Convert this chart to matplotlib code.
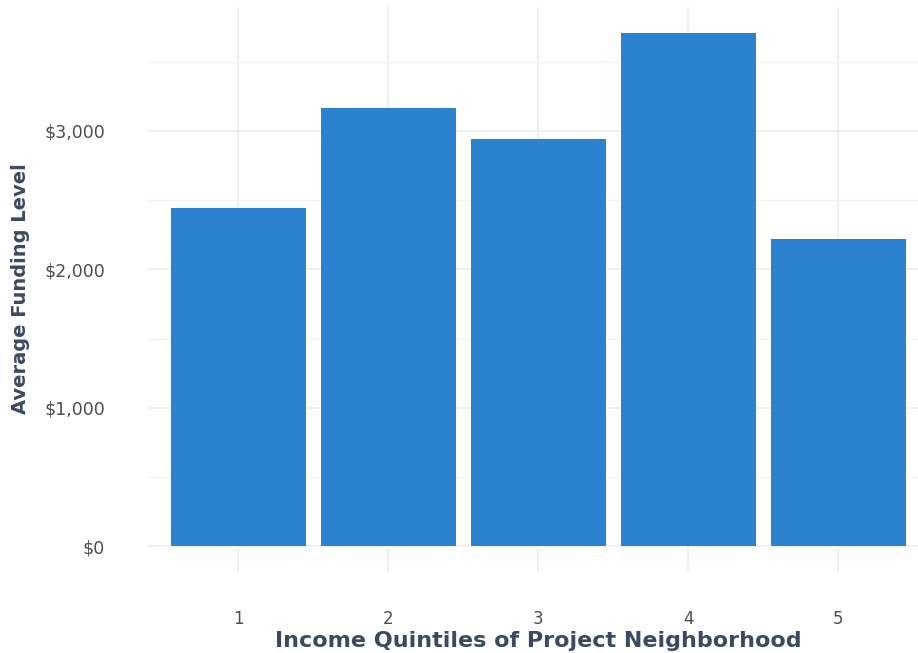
import matplotlib
matplotlib.use('Agg')
import matplotlib.pyplot as plt
import numpy as np

# Data
quintiles = ['1', '2', '3', '4', '5']
avg_funding = [2444, 3167, 2943, 3709, 2220]

bar_color = '#2b83d0'
label_color = '#3b4a63'
tick_color = '#4d4d4d'

plt.rcParams['font.family'] = ['DejaVu Sans']

fig = plt.figure(figsize=(9.18, 6.53), dpi=100)
# axes runs a bit past the right edge, like the cropped original
ax = fig.add_axes([148 / 918, 81 / 653, 780 / 918, 565 / 653])

x = np.arange(1, len(quintiles) + 1)
ax.bar(x, avg_funding, width=0.9, color=bar_color, zorder=3)

ax.set_xlim(0.4, 5.6)
ax.set_ylim(-185, 3894)

ax.set_xticks(x)
ax.set_xticklabels(quintiles)
ax.set_yticks([0, 1000, 2000, 3000])
ax.set_yticklabels(['$0', '$1,000', '$2,000', '$3,000'])
ax.set_yticks([500, 1500, 2500, 3500], minor=True)

# ggplot minimal look
for s in ax.spines.values():
    s.set_visible(False)
ax.grid(True, which='major', color='#ebebeb', linewidth=1.1, zorder=0)
ax.grid(True, which='minor', axis='y', color='#f4f4f4', linewidth=1.0, zorder=0)
ax.tick_params(which='both', length=0)
ax.tick_params(axis='y', labelsize=12.5, labelcolor=tick_color, pad=31)
ax.tick_params(axis='x', labelsize=12, labelcolor=tick_color, pad=27)

ax.set_xlabel('Income Quintiles of Project Neighborhood', fontsize=16,
              fontweight='bold', color=label_color, va='center')
ax.xaxis.set_label_coords(0.5, -0.122)
ax.set_ylabel('Average Funding Level', fontsize=14, fontweight='bold',
              color=label_color, va='center')
ax.yaxis.set_label_coords(-127 / 780, 0.502)

fig.savefig('out.png', dpi=100)
